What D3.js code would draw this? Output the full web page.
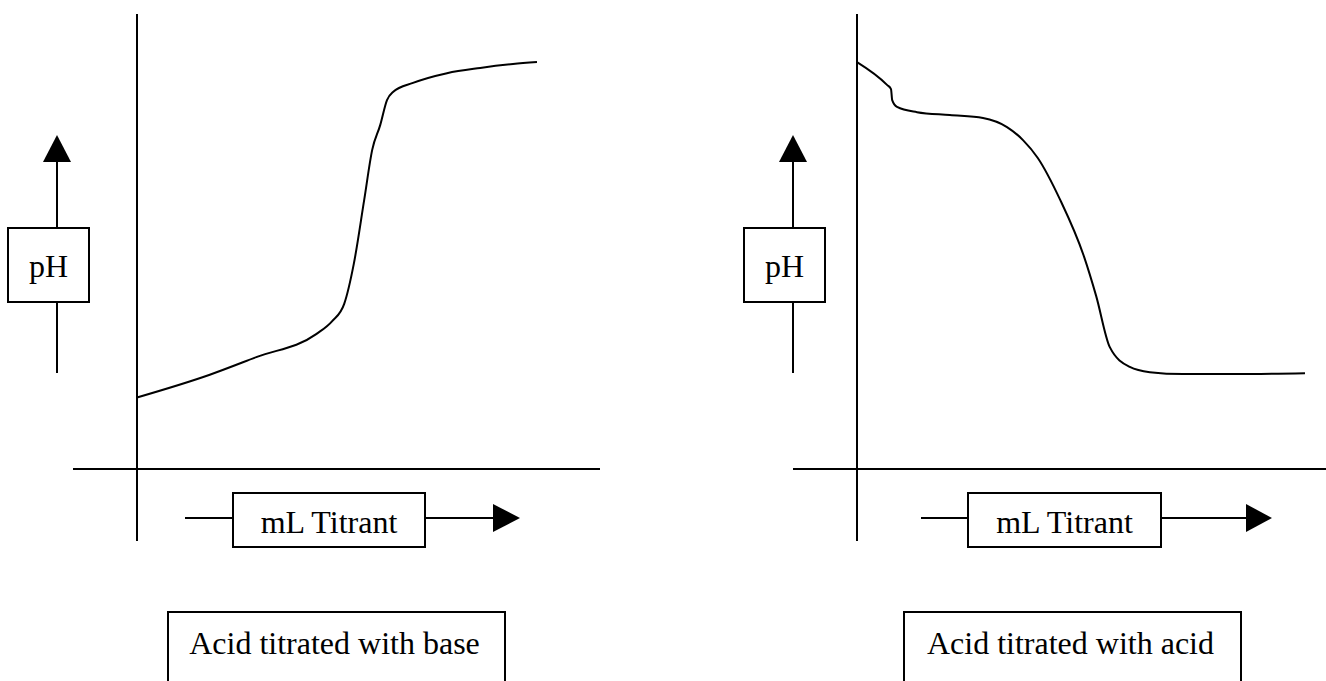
<!DOCTYPE html>
<html>
<head>
<meta charset="utf-8">
<script src="https://cdn.jsdelivr.net/npm/d3@7"></script>
<style>
  html, body { margin: 0; padding: 0; background: #fff; }
  svg text { font-family: "Liberation Serif", "Times New Roman", serif; font-size: 32px; fill: #000; }
</style>
</head>
<body>
<div id="chart"></div>
<script>
var baseMl = [0, 9.1, 15, 22.4, 24.4, 25.9, 27.1, 28.4, 29.4, 30.4, 31.25, 32, 34.5, 38.75, 42.9, 47, 50];
var basePh = [2.2, 2.9, 3.45, 4.15, 4.55, 5.08, 6.31, 8.28, 9.82, 10.58, 11.35, 11.6, 11.88, 12.18, 12.34, 12.46, 12.52];

var acidMl = [0, 3.75, 4.25, 4.4, 5, 7.5, 11.6, 15.75, 18.75, 20.75, 22.6, 25.4, 28.4, 29.9, 31.6, 34.1, 36.6, 40.75, 47, 56];
var acidPh = [12.52, 11.82, 11.69, 11.35, 11.14, 10.98, 10.89, 10.8, 10.52, 10.12, 9.57, 8.28, 6.52, 5.32, 3.75, 3.14, 2.98, 2.92, 2.92, 2.95];

var yLabel = "pH";
var xLabel = "mL Titrant";
var captions = ["Acid titrated with base", "Acid titrated with acid"];

var W = 1326, H = 681;
var AXIS_Y = 469, AXIS_TOP = 14, AXIS_BOTTOM = 541;
var PX_PER_ML = 8;
var LW = 2;

var svg = d3.select("#chart").append("svg")
  .attr("width", W)
  .attr("height", H);

//layout of each panel (absolute pixel positions of the decorations)
var panels = [
  {ml: baseMl, ph: basePh, caption: captions[0],
   ox: 137, xAxisL: 73, xAxisR: 600,
   phX: 57, phBox: [8, 89],
   xLineL: 185, xBox: [233, 425], xHead: [493, 520],
   capBox: [168, 505]},
  {ml: acidMl, ph: acidPh, caption: captions[1],
   ox: 857, xAxisL: 793, xAxisR: 1326,
   phX: 793, phBox: [744, 825],
   xLineL: 921, xBox: [968, 1161], xHead: [1246, 1272],
   capBox: [904, 1241]}
];

var y = d3.scaleLinear().domain([0, 14]).range([AXIS_Y, AXIS_TOP]);

function drawPanel(p) {
  var g = svg.append("g");
  var x = d3.scaleLinear().domain([0, 58]).range([p.ox, p.ox + 58 * PX_PER_ML]);

  //axes, plain crossing lines
  g.append("line")
    .attr("x1", p.ox).attr("x2", p.ox)
    .attr("y1", AXIS_TOP).attr("y2", AXIS_BOTTOM)
    .attr("stroke", "#000").attr("stroke-width", LW);
  g.append("line")
    .attr("x1", p.xAxisL).attr("x2", p.xAxisR)
    .attr("y1", AXIS_Y).attr("y2", AXIS_Y)
    .attr("stroke", "#000").attr("stroke-width", LW);

  //titration curve
  var pts = p.ml.map(function(d, i){ return [d, p.ph[i]]; });
  var line = d3.line()
    .x(function(d){ return x(d[0]); })
    .y(function(d){ return y(d[1]); })
    .curve(d3.curveMonotoneX);
  g.append("path")
    .datum(pts)
    .attr("d", line)
    .attr("fill", "none")
    .attr("stroke", "#000")
    .attr("stroke-width", LW);

  //pH label with up arrow
  var boxTop = 228, boxBot = 302;
  g.append("line")
    .attr("x1", p.phX).attr("x2", p.phX)
    .attr("y1", 373).attr("y2", 160)
    .attr("stroke", "#000").attr("stroke-width", LW);
  g.append("path")
    .attr("d", "M" + p.phX + ",135 L" + (p.phX + 14) + ",162 L" + (p.phX - 14) + ",162 Z")
    .attr("fill", "#000");
  g.append("rect")
    .attr("x", p.phBox[0]).attr("y", boxTop)
    .attr("width", p.phBox[1] - p.phBox[0]).attr("height", boxBot - boxTop)
    .attr("fill", "#fff").attr("stroke", "#000").attr("stroke-width", LW);
  g.append("text")
    .attr("x", (p.phBox[0] + p.phBox[1]) / 2).attr("y", 277)
    .attr("text-anchor", "middle")
    .text(yLabel);

  //mL Titrant label with right arrow
  var ly = 518;
  g.append("line")
    .attr("x1", p.xLineL).attr("x2", p.xHead[0] + 2)
    .attr("y1", ly).attr("y2", ly)
    .attr("stroke", "#000").attr("stroke-width", LW);
  g.append("path")
    .attr("d", "M" + p.xHead[1] + "," + ly + " L" + p.xHead[0] + "," + (ly - 14) + " L" + p.xHead[0] + "," + (ly + 14) + " Z")
    .attr("fill", "#000");
  g.append("rect")
    .attr("x", p.xBox[0]).attr("y", 493)
    .attr("width", p.xBox[1] - p.xBox[0]).attr("height", 54)
    .attr("fill", "#fff").attr("stroke", "#000").attr("stroke-width", LW);
  g.append("text")
    .attr("x", (p.xBox[0] + p.xBox[1]) / 2).attr("y", 533)
    .attr("text-anchor", "middle")
    .text(xLabel);

  //caption box, runs off the bottom of the page
  g.append("rect")
    .attr("x", p.capBox[0]).attr("y", 612)
    .attr("width", p.capBox[1] - p.capBox[0]).attr("height", 100)
    .attr("fill", "none").attr("stroke", "#000").attr("stroke-width", LW);
  g.append("text")
    .attr("x", (p.capBox[0] + p.capBox[1]) / 2 - 2).attr("y", 654)
    .attr("text-anchor", "middle")
    .text(p.caption);
}

panels.forEach(drawPanel);
</script>
</body>
</html>
